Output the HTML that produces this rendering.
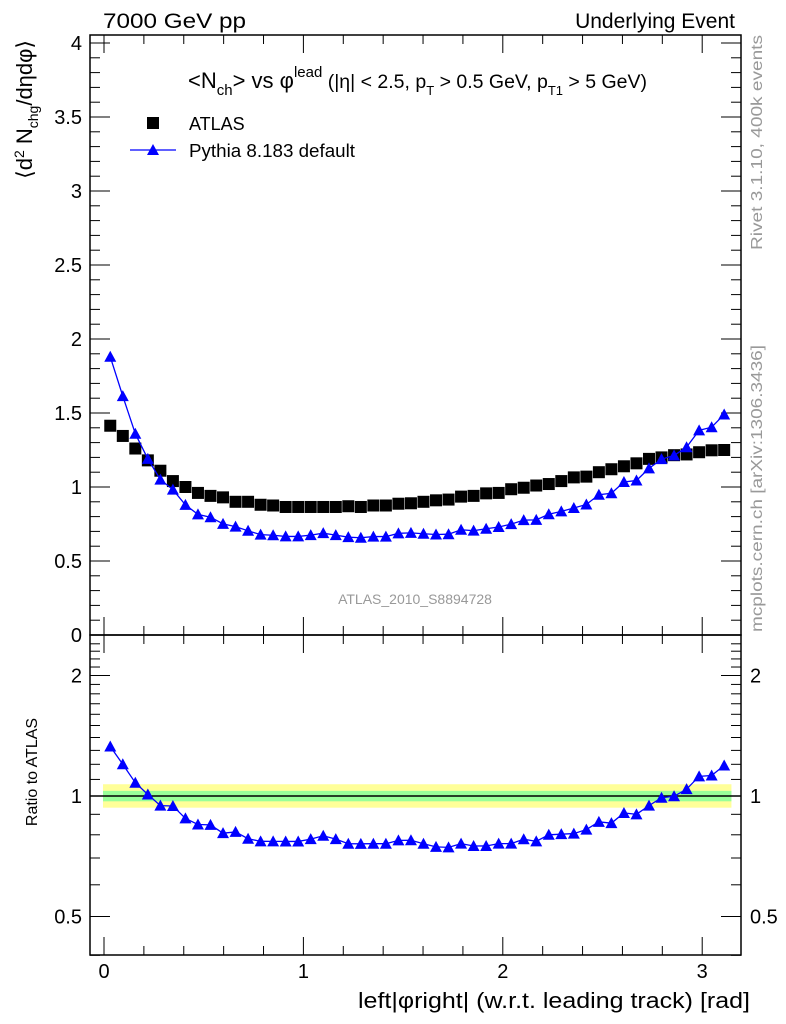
<!DOCTYPE html>
<html><head><meta charset="utf-8"><style>
body{margin:0;background:#fff;}
svg{display:block;font-family:"Liberation Sans",sans-serif;}
</style></head><body>
<svg id="c" width="786" height="1024" viewBox="0 0 786 1024" xmlns="http://www.w3.org/2000/svg">
<text x="103" y="28" font-size="21" textLength="143" lengthAdjust="spacingAndGlyphs">7000 GeV pp</text>
<text x="735" y="28" font-size="21" text-anchor="end">Underlying Event</text>
<text transform="translate(762,250) rotate(-90)" font-size="16" fill="#999" textLength="215" lengthAdjust="spacingAndGlyphs">Rivet 3.1.10,  400k events</text>
<text transform="translate(762,632) rotate(-90)" font-size="16" fill="#999" textLength="287" lengthAdjust="spacingAndGlyphs">mcplots.cern.ch [arXiv:1306.3436]</text>
<text transform="translate(32,40) rotate(-90)" font-size="22" text-anchor="end">⟨d<tspan font-size="14" dy="-8">2</tspan><tspan dy="8"> N</tspan><tspan font-size="14" dy="6">chg</tspan><tspan dy="-6">/dηdφ⟩</tspan></text>
<text transform="translate(37,772) rotate(-90)" font-size="16" text-anchor="middle">Ratio to ATLAS</text>
<text x="750" y="1008" font-size="22" text-anchor="end" textLength="392" lengthAdjust="spacingAndGlyphs">left|φright| (w.r.t. leading track) [rad]</text>
<text x="188" y="88" font-size="22">&lt;N<tspan font-size="15" dy="7">ch</tspan><tspan dy="-7">&gt; vs φ</tspan><tspan font-size="15" dy="-11">lead</tspan><tspan font-size="19.5" dy="11"> (|η| &lt; 2.5, p</tspan><tspan font-size="13" dy="7">T</tspan><tspan font-size="19.5" dy="-7"> &gt; 0.5 GeV, p</tspan><tspan font-size="13" dy="7">T1</tspan><tspan font-size="19.5" dy="-7"> &gt; 5 GeV)</tspan></text>
<g>
<rect x="147" y="117" width="12" height="12" fill="#000"/>
<text x="189" y="130" font-size="18">ATLAS</text>
<line x1="130" y1="150" x2="176" y2="150" stroke="#00f" stroke-width="1.3"/>
<polygon points="147,155 159,155 153,144" fill="#00f"/>
<text x="189" y="157" font-size="18" textLength="166" lengthAdjust="spacingAndGlyphs">Pythia 8.183 default</text>
</g>
<text x="415" y="604" font-size="14" fill="#999" text-anchor="middle">ATLAS_2010_S8894728</text>
<g id="g"></g>
</svg>
<script>
const atlas=[1.414,1.345,1.26,1.18,1.11,1.04,1.00,0.96,0.94,0.93,0.90,0.90,0.88,0.875,0.865,0.865,0.865,0.865,0.865,0.87,0.865,0.875,0.875,0.887,0.89,0.90,0.91,0.915,0.935,0.94,0.957,0.96,0.985,0.995,1.01,1.02,1.04,1.065,1.07,1.10,1.12,1.14,1.16,1.19,1.20,1.215,1.22,1.235,1.248,1.25];
const pythia=[1.88,1.614,1.36,1.19,1.05,0.982,0.879,0.815,0.796,0.751,0.732,0.704,0.678,0.674,0.666,0.666,0.675,0.688,0.675,0.661,0.657,0.665,0.665,0.687,0.69,0.684,0.679,0.681,0.711,0.705,0.718,0.73,0.749,0.776,0.778,0.816,0.835,0.858,0.882,0.948,0.958,1.034,1.044,1.126,1.188,1.213,1.269,1.383,1.404,1.49];
const xTicks=[0,1,2,3];
const yTicks=[0,0.5,1,1.5,2,2.5,3,3.5,4];
const rTicks=[0.5,1,2];
const NS="http://www.w3.org/2000/svg";
const g=document.getElementById('g');
const L=90,R=741,T=35,M=635,B=955;
const X=v=>104+v*199.4;
const Y=v=>635-v*148;
const RY=v=>796-120.5*Math.log2(v);
function mk(t,a){const e=document.createElementNS(NS,t);for(const k in a)e.setAttribute(k,a[k]);g.appendChild(e);return e;}
const n=atlas.length,w=Math.PI/n;
let e=mk('rect',{x:X(0)-1,y:RY(1.07),width:X(Math.PI)-X(0)+2,height:RY(0.935)-RY(1.07),fill:'#ffff99'});


e=mk('rect',{x:X(0)-1,y:RY(1.03),width:X(Math.PI)-X(0)+2,height:RY(0.97)-RY(1.03),fill:'#99ff99'});


e=mk('line',{x1:L,x2:R,y1:RY(1),y2:RY(1),stroke:'#000','stroke-width':1.5});


e=mk('rect',{x:L,y:T,width:R-L,height:M-T,fill:'none',stroke:'#000','stroke-width':1.5});


e=mk('rect',{x:L,y:M,width:R-L,height:B-M,fill:'none',stroke:'#000','stroke-width':1.5});


for(let v=0;v<=3.15;v+=0.2){const maj=Math.abs(v-Math.round(v))<1e-6;const len=maj?18:9;
 for(const [y0,d] of [[M,-1],[B,-1],[T,1],[M,1]]){mk('line',{x1:X(v),x2:X(v),y1:y0,y2:y0+d*len,stroke:'#000','stroke-width':1});}}
xTicks.forEach(v=>{const t=mk('text',{x:X(v),y:978,'font-size':20,'text-anchor':'middle'});t.textContent=v;

});
for(let v=0;v<=4.05;v+=0.1){const maj=Math.abs(v*2-Math.round(v*2))<1e-6;const len=maj?20:10;
 mk('line',{x1:L,x2:L+len,y1:Y(v),y2:Y(v),stroke:'#000'});mk('line',{x1:R,x2:R-len,y1:Y(v),y2:Y(v),stroke:'#000'});}
yTicks.forEach(v=>{const t=mk('text',{x:82,y:Y(v)+7,'font-size':20,'text-anchor':'end'});t.textContent=v;

});
for(let v=0.4;v<=2.5;v+=0.1){const maj=rTicks.some(r=>Math.abs(r-v)<1e-6);const len=maj?20:10;
 mk('line',{x1:L,x2:L+len,y1:RY(v),y2:RY(v),stroke:'#000'});mk('line',{x1:R,x2:R-len,y1:RY(v),y2:RY(v),stroke:'#000'});}
rTicks.forEach(v=>{for(const [x,a] of [[82,'end'],[750,'start']]){const t=mk('text',{x:x,y:RY(v)+7,'font-size':20,'text-anchor':a});t.textContent=v;

}});
atlas.forEach((v,i)=>{const r=mk('rect',{x:X((i+0.5)*w)-6,y:Y(v)-6,width:12,height:12,fill:'#000'});

});
const pl=mk('polyline',{points:pythia.map((v,i)=>X((i+0.5)*w)+','+Y(v)).join(' '),fill:'none',stroke:'#00f','stroke-width':1.3});


const tri=(x,y)=>`${x-6},${y+5} ${x+6},${y+5} ${x},${y-6}`;
pythia.forEach((v,i)=>{const p=mk('polygon',{points:tri(X((i+0.5)*w),Y(v)),fill:'#00f'});

});
const ratio=pythia.map((v,i)=>v/atlas[i]);
const rl=mk('polyline',{points:ratio.map((v,i)=>X((i+0.5)*w)+','+RY(v)).join(' '),fill:'none',stroke:'#00f','stroke-width':1.3});


ratio.forEach((v,i)=>{const p=mk('polygon',{points:tri(X((i+0.5)*w),RY(v)),fill:'#00f'});

});
</script>
</body></html>
